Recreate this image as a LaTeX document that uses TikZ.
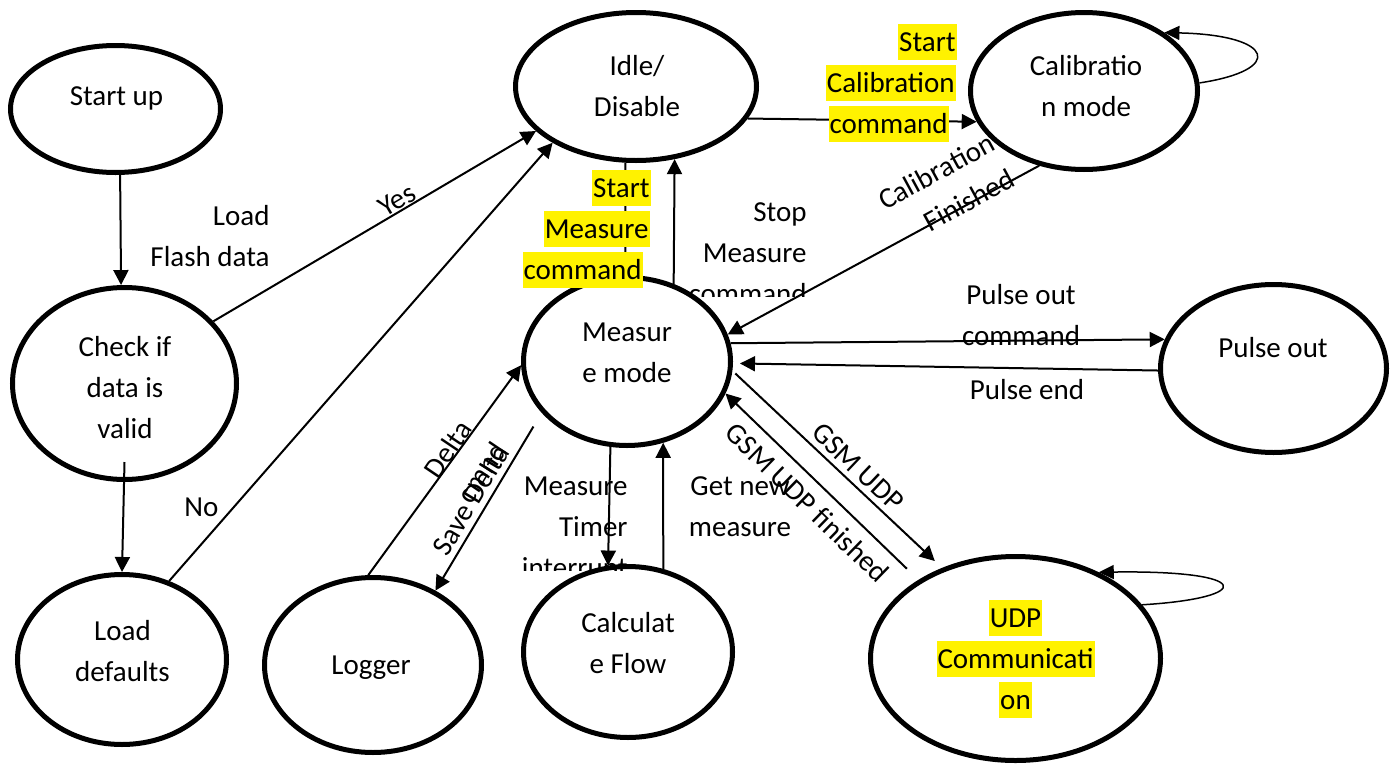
\documentclass[tikz,border=0pt]{standalone}
\usepackage{fontspec}
\setmainfont{Carlito}
\usetikzlibrary{shapes.geometric,arrows.meta}
\newcommand\tstrut{\rule[-4.2pt]{0pt}{17.8pt}}
\begin{document}
\begin{tikzpicture}[x=0.5pt,y=-0.5pt,
  state/.style={ellipse,draw,line width=2.5pt,fill=white,inner sep=0pt},
  txt/.style={font=\fontsize{14.5}{20.5}\selectfont,inner sep=0pt},
  hl/.style={txt,fill=yellow,inner xsep=0.5pt},
  arr/.style={line width=1pt,-{Triangle[length=7.5pt,width=7.5pt]}},
  selfloop/.style={line width=0.75pt,-{Triangle[length=7.5pt,width=7pt]}},
]
\useasboundingbox (0,0) rectangle (1393,766);

% states
\node[state,minimum width=105pt,minimum height=63.5pt] (startup) at (115.5,109) {};
\node[state,minimum width=112pt,minimum height=96pt] (check) at (124.5,383.5) {};
\node[state,minimum width=104.5pt,minimum height=85pt] (loaddef) at (122,659.5) {};
\node[state,minimum width=120.5pt,minimum height=74pt] (idle) at (636,86.5) {};
\node[state,minimum width=113.5pt,minimum height=78.5pt] (calib) at (1084,91) {};
\node[state,minimum width=103.5pt,minimum height=84pt] (measure) at (627,361.5) {};
\node[state,minimum width=113pt,minimum height=84pt] (pulse) at (1273.5,368.5) {};
\node[state,minimum width=108.5pt,minimum height=87.5pt] (logger) at (373,665) {};
\node[state,minimum width=104.5pt,minimum height=85.5pt] (calc) at (628,652) {};
\node[state,minimum width=145pt,minimum height=102pt] (udp) at (1015.5,658.5) {};

% state texts
\node[txt] (startupT) at (116.5,96) {\tstrut Start up};
\node[txt,align=center] (checkT) at (125,388) {\tstrut Check if\\\tstrut data is\\\tstrut valid};
\node[txt,align=center] (loaddefT) at (122.5,652) {\tstrut Load\\\tstrut defaults};
\node[txt,align=center] (idleT) at (637,87) {\tstrut Idle/\\\tstrut Disable};
\node[txt,align=center] (calibT) at (1086,86.5) {\tstrut Calibratio\\\tstrut n mode};
\node[txt,align=center] (measureT) at (627,352.5) {\tstrut Measur\\\tstrut e mode};
\node[txt] (pulseT) at (1273,348) {\tstrut Pulse out};
\node[txt] (loggerT) at (371,665) {\tstrut Logger};
\node[txt,align=center] (calcT) at (628,644) {\tstrut Calculat\\\tstrut e Flow};
\node[hl] (udpT1) at (1015.5,618) {\tstrut UDP};
\node[hl] (udpT2) at (1015.5,659) {\tstrut Communicati};
\node[hl] (udpT3) at (1015.5,700) {\tstrut on};

% connectors
\draw[arr] (startup.-86) -- (check.92.6);
\draw[arr] ([yshift=10pt]check.south) -- (loaddef.north);
\draw[arr] (check.35.1) -- (idle.-156.2);
\draw[arr] (loaddef.59.2) -- (idle.214.7);
\draw[arr] (idle.-16.6) -- (calib.196.6);
\draw[selfloop] (calib.4.4) .. controls (1285,70) and (1275,35) .. (calib.36.8);
\draw[arr] (calib.-121.7) -- (measure.15.3);
\draw[arr] (idle.-98.2) -- (measure.91.3);
\draw[arr] (measure.59.1) -- (idle.-62.7);
\draw[arr] (measure.10.4) -- (pulse.165);
\draw[arr,shorten >=3.5pt] (pulse.181.7) -- (measure.-1.8);
\draw[arr,shorten <=2pt,shorten >=5pt] (measure.-5.5) -- (udp.129.1);
\draw[arr,shorten <=8pt] (udp.141.2) -- (measure.-18.7);
\draw[arr,shorten <=8pt] (measure.211.1) -- (logger.50);
\draw[arr] (logger.93.8) -- (measure.182.9);
\draw[arr] (measure.-101.8) -- (calc.103.6);
\draw[arr] (calc.67.6) -- (measure.-66.8);
\draw[selfloop] (udp.23.5) .. controls (1255,598) and (1255,570) .. (udp.46.3);

% labels
\node[txt,align=right,anchor=east] (lflash) at (270,237) {\tstrut Load\\\tstrut Flash data};
\node[txt,rotate=30.6] (lyes) at (397,200) {\tstrut Yes};
\node[txt] (lno) at (201.5,507) {\tstrut No};
\node[hl,anchor=east] (lsc1) at (957,42) {\tstrut Start\ };
\node[hl,anchor=east] (lsc2) at (956,83) {\tstrut Calibration\ };
\node[hl,anchor=east] (lsc3) at (949,124) {\tstrut command};
\node[hl,anchor=east] (lsm1) at (651,188) {\tstrut Start\ };
\node[hl,anchor=east] (lsm2) at (650,229) {\tstrut Measure\ };
\node[hl,anchor=east] (lsm3) at (643,270) {\tstrut command};
\begin{scope}
  \clip (650,150) rectangle (900,296);
  \node[txt,align=right,anchor=east] (lstop) at (807,253.5) {\tstrut Stop\\\tstrut Measure\\\tstrut command};
\end{scope}
\node[txt,align=right,rotate=28.5] (lcalfin) at (946.5,189.7) {\tstrut Calibration\\\tstrut Finished};
\node[txt,align=center] (lpout) at (1021,316) {\tstrut Pulse out\\\tstrut command};
\node[txt] (lpend) at (1027,390) {\tstrut Pulse end};
\node[txt,rotate=-43.5] (lgsm) at (858,467) {\tstrut GSM UDP};
\node[txt,rotate=-44.2] (lgsmf) at (807,503) {\tstrut GSM UDP finished};
\node[txt,align=center] (lgetnew) at (740,507) {\tstrut Get new\\\tstrut measure};
\begin{scope}
  \clip (450,440) rectangle (650,570);
  \node[txt,align=right,anchor=east] (ltimer) at (628,527) {\tstrut Measure\\\tstrut Timer\\\tstrut interrupt};
\end{scope}
\node[txt,align=center,rotate=56] (ldelta) at (465,461) {\tstrut Delta\\\tstrut cmnd};
\node[txt,rotate=59] (lsave) at (471,500) {\tstrut Save Delta};
\end{tikzpicture}
\end{document}
